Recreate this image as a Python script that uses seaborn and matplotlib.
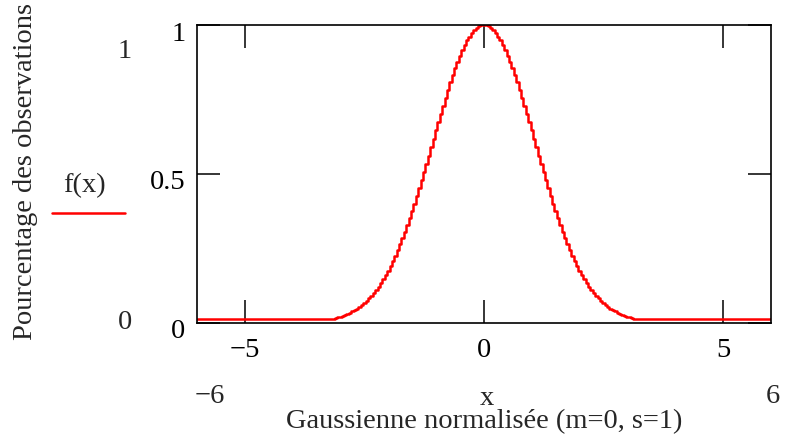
import numpy as np
import pandas as pd
import matplotlib
matplotlib.use("Agg")
import matplotlib.pyplot as plt
import matplotlib.transforms as mtransforms
from matplotlib.lines import Line2D
import seaborn as sns

# values (step curve, x from -3.2 to 3.2 every 0.05)
x_grid = np.linspace(-3.2, 3.2, 129)
f_left = [0.011, 0.013, 0.015, 0.017, 0.020, 0.022, 0.025, 0.029, 0.033, 0.037,
          0.041, 0.047, 0.052, 0.058, 0.065, 0.073, 0.081, 0.090, 0.099, 0.110,
          0.121, 0.133, 0.146, 0.160, 0.174, 0.190, 0.207, 0.224, 0.243, 0.263,
          0.283, 0.305, 0.327, 0.350, 0.374, 0.399, 0.425, 0.451, 0.478, 0.505,
          0.533, 0.561, 0.590, 0.618, 0.646, 0.674, 0.702, 0.729, 0.756, 0.782,
          0.807, 0.832, 0.855, 0.876, 0.897, 0.915, 0.932, 0.948, 0.961, 0.973,
          0.983, 0.990, 0.996, 0.999]
f_peak = [1.000]
f_right = [0.999, 0.996, 0.990, 0.983, 0.973, 0.961, 0.948, 0.932, 0.915, 0.897,
           0.876, 0.855, 0.832, 0.807, 0.782, 0.756, 0.729, 0.702, 0.674, 0.646,
           0.618, 0.590, 0.561, 0.533, 0.505, 0.478, 0.451, 0.425, 0.399, 0.374,
           0.350, 0.327, 0.305, 0.283, 0.263, 0.243, 0.224, 0.207, 0.190, 0.174,
           0.160, 0.146, 0.133, 0.121, 0.110, 0.099, 0.090, 0.081, 0.073, 0.065,
           0.058, 0.052, 0.047, 0.041, 0.037, 0.033, 0.029, 0.025, 0.022, 0.020,
           0.017, 0.015, 0.013, 0.011]
# flat tails out to the plot limits
tail_x = [-6.0, 6.0]
tail_f = [0.011, 0.011]

x_ticks = [-5, 0, 5]
x_ticklabels = ["\u22125", "0", "5"]
y_ticks = [0, 0.5, 1]
y_ticklabels = ["0", "0.5", "1"]

df = pd.DataFrame({
    "x": np.concatenate([[tail_x[0]], x_grid, [tail_x[1]]]),
    "f": [tail_f[0]] + f_left + f_peak + f_right + [tail_f[1]],
})

sns.set_style("white")
plt.rcParams["font.family"] = ["Liberation Serif", "DejaVu Serif"]
fs = 20.5

fig = plt.figure(figsize=(7.85, 4.41), dpi=100)
ax = fig.add_axes([0.251, 0.2687, 0.731, 0.6746])

sns.lineplot(data=df, x="x", y="f", drawstyle="steps-mid", color="red",
             lw=1.8, estimator=None, ax=ax)

ax.set_xlim(-6, 6)
ax.set_ylim(0, 1)
ax.set_xticks(x_ticks)
ax.set_xticklabels(x_ticklabels)
ax.set_yticks(y_ticks)
ax.set_yticklabels(y_ticklabels)
ax.set_xlabel("")
ax.set_ylabel("")
ax.tick_params(axis="both", direction="in", length=16.5, width=1.1,
               top=True, right=True, bottom=True, left=True,
               labelsize=fs, colors="black")
ax.tick_params(axis="x", pad=11)
ax.tick_params(axis="y", pad=8.5)
for s in ax.spines.values():
    s.set_color("black")
    s.set_linewidth(1.2)

# y labels sit a little below their ticks in the reference
shift = mtransforms.ScaledTranslation(0, -6 / 100, fig.dpi_scale_trans)
for lab in ax.get_yticklabels():
    lab.set_transform(lab.get_transform() + shift)

# Mathcad style range labels and captions
fig.text(0.2675, 0.102, "\u22126", ha="center", va="center", fontsize=fs)
fig.text(0.6204, 0.0975, "x", ha="center", va="center", fontsize=fs)
fig.text(0.9847, 0.102, "6", ha="center", va="center", fontsize=fs)
fig.text(0.6166, 0.0431, "Gaussienne normalisée (m=0, s=1)", ha="center",
         va="center", fontsize=fs)
fig.text(0.0331, 0.61, "Pourcentage des observations", rotation=90,
         ha="center", va="center", fontsize=fs)
fig.text(0.159, 0.884, "1", ha="center", va="center", fontsize=fs)
fig.text(0.159, 0.2698, "0", ha="center", va="center", fontsize=fs)
fig.text(0.107, 0.578, "f(x)", ha="center", va="center", fontsize=fs)
fig.add_artist(Line2D([0.0662, 0.159], [0.517, 0.517], color="red", lw=1.8,
                      transform=fig.transFigure))

fig.savefig("out.png", dpi=100)
